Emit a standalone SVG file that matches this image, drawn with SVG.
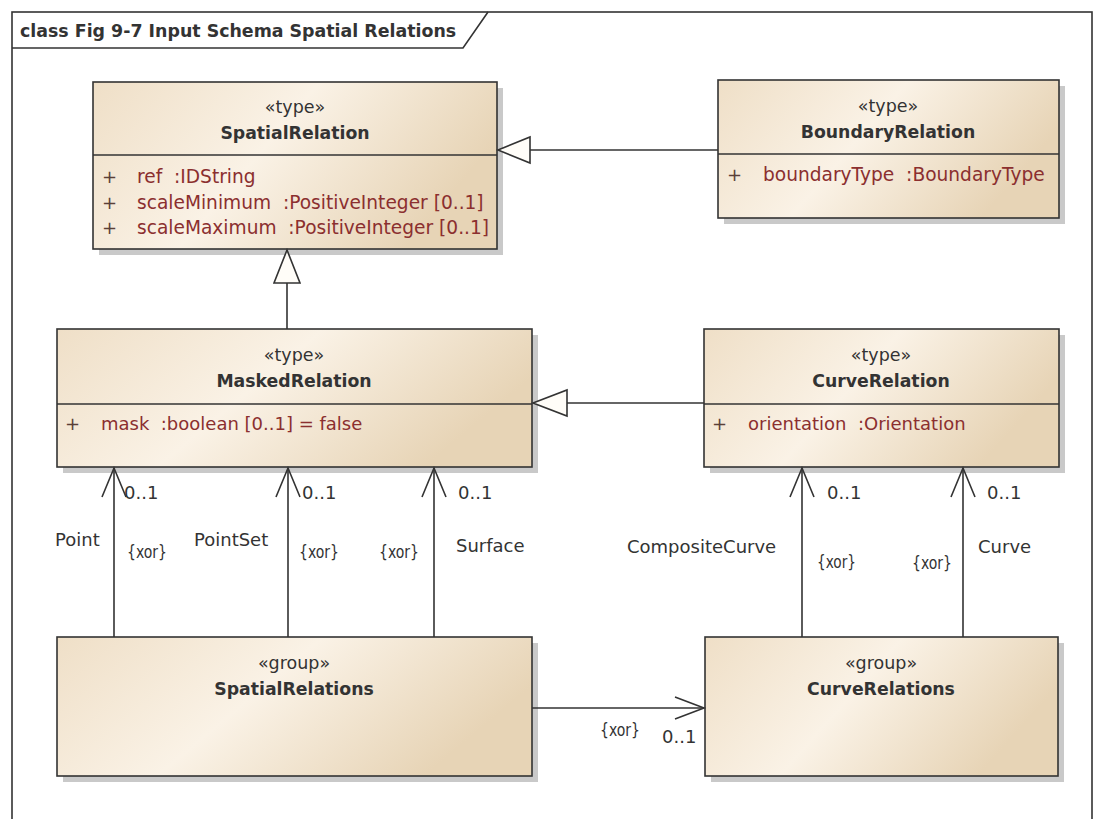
<svg xmlns="http://www.w3.org/2000/svg" width="1095" height="819" viewBox="0 0 1095 819">
<defs>
<linearGradient id="fillg" x1="0" y1="0" x2="1" y2="0.35">
<stop offset="0" stop-color="#efdfc7"/>
<stop offset="0.5" stop-color="#faf2e6"/>
<stop offset="1" stop-color="#e7d4b6"/>
</linearGradient>
<style>
.box{fill:url(#fillg);stroke:#333;stroke-width:1.6}
.shadow{fill:#c9c9c9}
.div{stroke:#333;stroke-width:1.6}
.st{font-family:"DejaVu Sans",Verdana,sans-serif;font-size:17.5px;fill:#333;text-anchor:middle}
.nm{font-family:"DejaVu Sans",Verdana,sans-serif;font-size:17.3px;font-weight:bold;fill:#333;text-anchor:middle}
.at{font-family:"DejaVu Sans",Verdana,sans-serif;font-size:18px;fill:#8b2f2f}
.at2{font-family:"DejaVu Sans",Verdana,sans-serif;font-size:18.6px;fill:#8b2f2f}
.pl{font-family:"DejaVu Sans",Verdana,sans-serif;font-size:18px;fill:#5a4038}
.lb{font-family:"DejaVu Sans",Verdana,sans-serif;font-size:18px;fill:#333}
.ln{stroke:#333;stroke-width:1.6;fill:none}
.tri{fill:#fffdf8;stroke:#333;stroke-width:1.6}
.title{font-family:"DejaVu Sans",Verdana,sans-serif;font-size:17.4px;font-weight:bold;fill:#333}
</style>
</defs>
<rect x="0" y="0" width="1095" height="819" fill="#fff"/>
<g id="frame">
<rect x="12" y="12" width="1080" height="830" fill="none" stroke="#333" stroke-width="1.6"/>
<path d="M12,48 H463 L488,12" fill="none" stroke="#333" stroke-width="1.6"/>
<text class="title" x="20" y="37">class Fig 9-7 Input Schema Spatial Relations</text>
</g>
<g id="SpatialRelation">
<rect class="shadow" x="99" y="88" width="404" height="167"/>
<rect class="box" x="93" y="82" width="404" height="167"/>
<line class="div" x1="93" y1="155" x2="497" y2="155"/>
<text class="st" x="295" y="113">«type»</text>
<text class="nm" x="295" y="139">SpatialRelation</text>
<text class="pl" x="102" y="183">+</text>
<text class="at2" x="137" y="183" xml:space="preserve">ref  :IDString</text>
<text class="pl" x="102" y="209">+</text>
<text class="at2" x="137" y="209" xml:space="preserve">scaleMinimum  :PositiveInteger [0..1]</text>
<text class="pl" x="102" y="234">+</text>
<text class="at2" x="137" y="234" xml:space="preserve">scaleMaximum  :PositiveInteger [0..1]</text>
</g>
<g id="BoundaryRelation">
<rect class="shadow" x="724" y="86" width="341" height="138"/>
<rect class="box" x="718" y="80" width="341" height="138"/>
<line class="div" x1="718" y1="154" x2="1059" y2="154"/>
<text class="st" x="888" y="112">«type»</text>
<text class="nm" x="888" y="138">BoundaryRelation</text>
<text class="pl" x="727" y="181">+</text>
<text class="at2" x="763" y="181" xml:space="preserve">boundaryType  :BoundaryType</text>
</g>
<g id="MaskedRelation">
<rect class="shadow" x="63" y="335" width="475" height="138"/>
<rect class="box" x="57" y="329" width="475" height="138"/>
<line class="div" x1="57" y1="404" x2="532" y2="404"/>
<text class="st" x="294" y="361">«type»</text>
<text class="nm" x="294" y="387">MaskedRelation</text>
<text class="pl" x="65" y="430">+</text>
<text class="at" x="101" y="430" xml:space="preserve">mask  :boolean [0..1] = false</text>
</g>
<g id="CurveRelation">
<rect class="shadow" x="710" y="335" width="355" height="138"/>
<rect class="box" x="704" y="329" width="355" height="138"/>
<line class="div" x1="704" y1="404" x2="1059" y2="404"/>
<text class="st" x="881" y="361">«type»</text>
<text class="nm" x="881" y="387">CurveRelation</text>
<text class="pl" x="712" y="430">+</text>
<text class="at" x="748" y="430" xml:space="preserve">orientation  :Orientation</text>
</g>
<g id="SpatialRelations">
<rect class="shadow" x="63" y="643" width="475" height="139"/>
<rect class="box" x="57" y="637" width="475" height="139"/>
<text class="st" x="294" y="669">«group»</text>
<text class="nm" x="294" y="695">SpatialRelations</text>
</g>
<g id="CurveRelations">
<rect class="shadow" x="711" y="643" width="353" height="139"/>
<rect class="box" x="705" y="637" width="353" height="139"/>
<text class="st" x="881" y="669">«group»</text>
<text class="nm" x="881" y="695">CurveRelations</text>
</g>
<g id="connectors">
<line class="ln" x1="718" y1="150" x2="530" y2="150"/>
<polygon class="tri" points="498,150 530,137 530,163"/>
<line class="ln" x1="287" y1="329" x2="287" y2="283"/>
<polygon class="tri" points="287,250 274,283 300,283"/>
<line class="ln" x1="704" y1="403" x2="567" y2="403"/>
<polygon class="tri" points="533,403 567,390 567,416"/>
<line class="ln" x1="114" y1="637" x2="114" y2="468"/>
<polyline class="ln" points="102,497 114,468 126,497"/>
<line class="ln" x1="288" y1="637" x2="288" y2="468"/>
<polyline class="ln" points="276,497 288,468 300,497"/>
<line class="ln" x1="434" y1="637" x2="434" y2="468"/>
<polyline class="ln" points="422,497 434,468 446,497"/>
<line class="ln" x1="802" y1="637" x2="802" y2="468"/>
<polyline class="ln" points="790,497 802,468 814,497"/>
<line class="ln" x1="963" y1="637" x2="963" y2="468"/>
<polyline class="ln" points="951,497 963,468 975,497"/>
<line class="ln" x1="532" y1="708" x2="704" y2="708"/>
<polyline class="ln" points="675,697 704,708 675,719"/>
<text class="lb" x="124" y="499">0..1</text>
<text class="lb" x="302" y="499">0..1</text>
<text class="lb" x="458" y="499">0..1</text>
<text class="lb" x="827" y="499">0..1</text>
<text class="lb" x="987" y="499">0..1</text>
<text class="lb" x="55" y="546">Point</text>
<text class="lb" x="127" y="558" textLength="40" lengthAdjust="spacingAndGlyphs">{xor}</text>
<text class="lb" x="194" y="546">PointSet</text>
<text class="lb" x="299" y="558" textLength="40" lengthAdjust="spacingAndGlyphs">{xor}</text>
<text class="lb" x="379" y="558" textLength="40" lengthAdjust="spacingAndGlyphs">{xor}</text>
<text class="lb" x="456" y="552">Surface</text>
<text class="lb" x="627" y="553">CompositeCurve</text>
<text class="lb" x="817" y="568" textLength="39" lengthAdjust="spacingAndGlyphs">{xor}</text>
<text class="lb" x="912" y="569" textLength="40" lengthAdjust="spacingAndGlyphs">{xor}</text>
<text class="lb" x="978" y="553">Curve</text>
<text class="lb" x="600" y="736" textLength="40" lengthAdjust="spacingAndGlyphs">{xor}</text>
<text class="lb" x="662" y="743">0..1</text>
</g>
</svg>
